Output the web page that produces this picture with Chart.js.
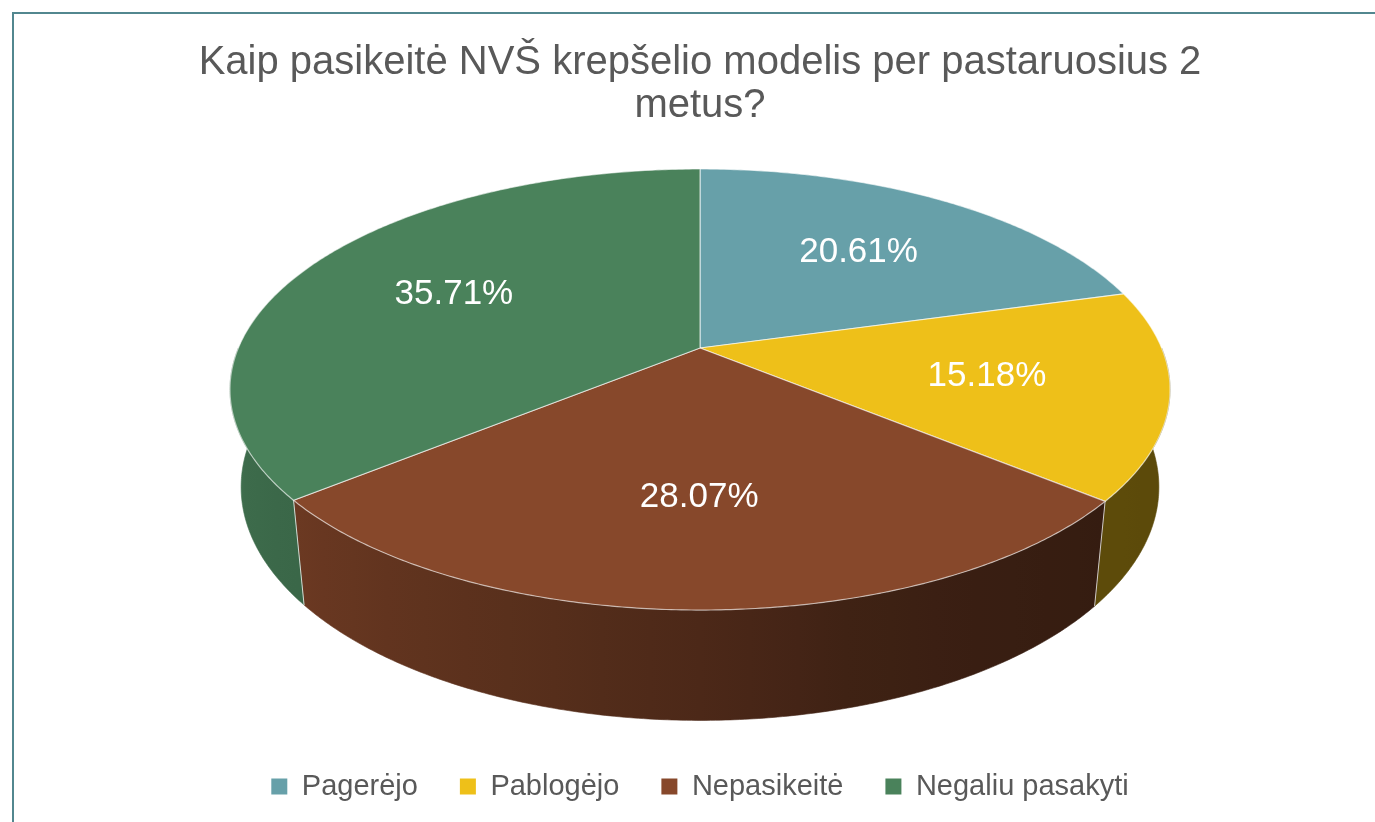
<!DOCTYPE html>
<html>
<head>
<meta charset="utf-8">
<script src="https://cdn.jsdelivr.net/npm/chart.js@4.4.1/dist/chart.umd.min.js"></script>
<style>
  html, body { margin: 0; padding: 0; overflow: hidden; background: #fff; }
  #frame { position: absolute; left: 12px; top: 12px; width: 1450px; height: 900px; border: 2px solid #52878F; }
  #c { position: absolute; left: 0; top: 0; }
</style>
</head>
<body>
<div id="frame"></div>
<canvas id="c" width="1375" height="822"></canvas>
<script>
const titleLines = ['Kaip pasikeitė NVŠ krepšelio modelis per pastaruosius 2', 'metus?'];
const categories = ['Pagerėjo', 'Pablogėjo', 'Nepasikeitė', 'Negaliu pasakyti'];
const shares = [20.61, 15.18, 28.07, 35.71];
const colors = ['#67A0A9', '#EEC019', '#87482B', '#4A825B'];

// how bright the side wall is, by angle (degrees clockwise from 12 o'clock)
const wallShade = [[90, 0.38], [130, 0.39], [150, 0.42], [165, 0.47], [180, 0.56], [200, 0.66], [230, 0.79], [260, 0.86], [270, 0.87]];

function shadeAt(deg) {
  for (let i = 1; i < wallShade.length; i++) {
    const [d1, v1] = wallShade[i];
    const [d0, v0] = wallShade[i - 1];
    if (deg <= d1) return v0 + (v1 - v0) * (deg - d0) / (d1 - d0);
  }
  return wallShade[wallShade.length - 1][1];
}

function darken(hex, f) {
  const n = parseInt(hex.slice(1), 16);
  const r = Math.round(((n >> 16) & 255) * f);
  const g = Math.round(((n >> 8) & 255) * f);
  const b = Math.round((n & 255) * f);
  return `rgb(${r},${g},${b})`;
}

Chart.defaults.font.family = '"Liberation Sans", Arial, sans-serif';

// draws the pie as a tilted disc, using the angles Chart.js computed for each arc
const pie3d = {
  id: 'pie3d',
  beforeDatasetsDraw(chart) {
    const ctx = chart.ctx;
    const meta = chart.getDatasetMeta(0);
    const ca = chart.chartArea;
    const h = ca.bottom - ca.top;
    const cx = (ca.left + ca.right) / 2;
    const cy = ca.top + h * 0.3554;
    const k = h * 0.779;
    const sinA = 0.4608, cosA = 0.8875, D = 4.716, H = 0.24;
    const step = Math.PI / 360;

    const proj = (phi, rho, depth) => {
      const X = rho * Math.sin(phi), Z = -rho * Math.cos(phi);
      const y3 = Z * sinA + depth * cosA;
      const d = Z * cosA - depth * sinA;
      const s = D / (D - d);
      return [cx + k * X * s, cy + k * y3 * s];
    };

    const arcs = meta.data.map((a, i) => ({
      p0: a.startAngle + Math.PI / 2,
      p1: a.endAngle + Math.PI / 2,
      color: colors[i],
      value: shares[i]
    }));

    // side walls (front half only)
    const xL = proj(Math.PI * 1.5, 1, 0)[0];
    const xR = proj(Math.PI * 0.5, 1, 0)[0];
    arcs.forEach(a => {
      const p0 = Math.max(a.p0, Math.PI / 2);
      const p1 = Math.min(a.p1, Math.PI * 1.5);
      if (p1 <= p0) return;
      const grad = ctx.createLinearGradient(xL, 0, xR, 0);
      for (let deg = 90; deg <= 270; deg += 5) {
        const x = proj(deg * Math.PI / 180, 1, 0)[0];
        const pos = Math.min(1, Math.max(0, (x - xL) / (xR - xL)));
        grad.addColorStop(pos, darken(a.color, shadeAt(deg)));
      }
      ctx.beginPath();
      let pt = proj(p0, 1, 0);
      ctx.moveTo(pt[0], pt[1]);
      for (let p = p0; p < p1; p += step) { pt = proj(p, 1, 0); ctx.lineTo(pt[0], pt[1]); }
      pt = proj(p1, 1, 0); ctx.lineTo(pt[0], pt[1]);
      for (let p = p1; p > p0; p -= step) { pt = proj(p, 1, H); ctx.lineTo(pt[0], pt[1]); }
      pt = proj(p0, 1, H); ctx.lineTo(pt[0], pt[1]);
      ctx.closePath();
      ctx.fillStyle = grad;
      ctx.fill();
      ctx.strokeStyle = grad;
      ctx.lineWidth = 0.6;
      ctx.stroke();
    });

    // seams on the wall
    ctx.strokeStyle = 'rgba(255,255,255,0.75)';
    ctx.lineWidth = 1;
    arcs.forEach(a => {
      if (a.p0 > Math.PI / 2 && a.p0 < Math.PI * 1.5) {
        const t = proj(a.p0, 1, 0), b = proj(a.p0, 1, H);
        ctx.beginPath(); ctx.moveTo(t[0], t[1]); ctx.lineTo(b[0], b[1]); ctx.stroke();
      }
    });

    // top faces
    const c0 = proj(0, 0, 0);
    arcs.forEach(a => {
      ctx.beginPath();
      ctx.moveTo(c0[0], c0[1]);
      for (let p = a.p0; p < a.p1; p += step) { const pt = proj(p, 1, 0); ctx.lineTo(pt[0], pt[1]); }
      const e = proj(a.p1, 1, 0); ctx.lineTo(e[0], e[1]);
      ctx.closePath();
      ctx.fillStyle = a.color;
      ctx.fill();
      ctx.strokeStyle = 'rgba(255,255,255,0.6)';
      ctx.lineWidth = 1.2;
      ctx.stroke();
    });

    // value labels
    ctx.fillStyle = '#ffffff';
    ctx.font = '35px "Liberation Sans", Arial, sans-serif';
    ctx.textAlign = 'center';
    ctx.textBaseline = 'middle';
    arcs.forEach(a => {
      const m = proj((a.p0 + a.p1) / 2, 0.62, 0);
      ctx.fillText(a.value.toFixed(2) + '%', m[0], m[1]);
    });
    return false;
  }
};

new Chart(document.getElementById('c'), {
  type: 'pie',
  data: {
    labels: categories,
    datasets: [{
      data: shares,
      backgroundColor: colors,
      borderWidth: 0
    }]
  },
  options: {
    responsive: false,
    animation: false,
    layout: { padding: { left: 25, bottom: 11 } },
    plugins: {
      title: {
        display: true,
        text: titleLines,
        color: '#595959',
        font: { size: 40, weight: 'normal', lineHeight: 1.08 },
        padding: { top: 41, bottom: 10 }
      },
      legend: {
        position: 'bottom',
        labels: {
          color: '#595959',
          font: { size: 29 },
          boxWidth: 16,
          boxHeight: 16,
          padding: 42
        }
      },
      tooltip: { enabled: false }
    }
  },
  plugins: [pie3d]
});
</script>
</body>
</html>
